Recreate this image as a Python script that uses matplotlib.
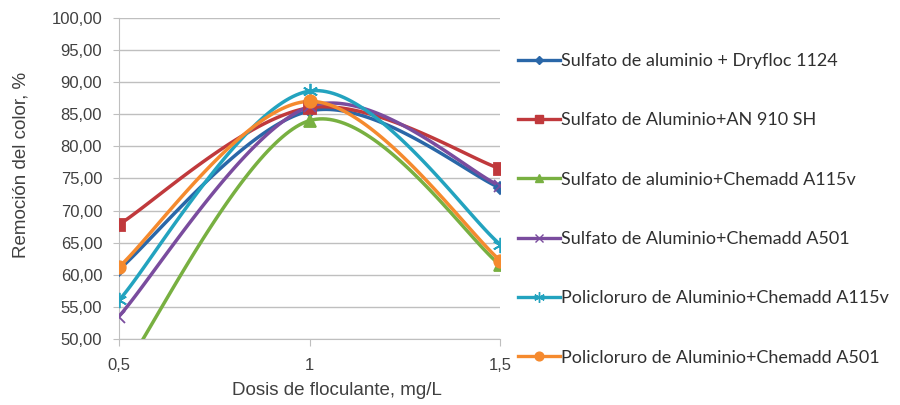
import numpy as np
import matplotlib
matplotlib.use("Agg")
import matplotlib.pyplot as plt
from matplotlib.lines import Line2D

x_vals = [0.5, 1.0, 1.5]
x_labels = ["0,5", "1", "1,5"]
y_ticks = [50, 55, 60, 65, 70, 75, 80, 85, 90, 95, 100]

series_names = [
    "Sulfato de aluminio + Dryfloc 1124",
    "Sulfato de Aluminio+AN 910 SH",
    "Sulfato de aluminio+Chemadd A115v",
    "Sulfato de Aluminio+Chemadd A501",
    "Policloruro de Aluminio+Chemadd A115v",
    "Policloruro de Aluminio+Chemadd A501",
]
dryfloc = [60.8, 85.5, 73.5]
an910 = [67.8, 86.0, 76.5]
chem_a115v = [44.0, 84.0, 61.5]
chem_a501 = [53.5, 86.2, 73.8]
poli_a115v = [56.0, 88.6, 64.7]
poli_a501 = [61.2, 87.0, 62.2]
series_values = [dryfloc, an910, chem_a115v, chem_a501, poli_a115v, poli_a501]

colors = ["#2A67A8", "#C0393C", "#78B041", "#7A4C9E", "#23A3BF", "#F58A2E"]
markers = ["D", "s", "^", "x", (6, 2, 0), "o"]
msizes = [6, 8, 8, 9, 11, 9]


def smooth(xs, ys, n=60):
    xs = np.asarray(xs, float)
    ys = np.asarray(ys, float)
    P = np.column_stack([xs, ys])
    ext = np.vstack([P[0], P, P[-1]])
    out = []
    for i in range(len(P) - 1):
        p0, p1, p2, p3 = ext[i], ext[i + 1], ext[i + 2], ext[i + 3]
        c1 = p1 + (p2 - p0) / 6.0
        c2 = p2 - (p3 - p1) / 6.0
        t = np.linspace(0, 1, n)[:, None]
        seg = ((1 - t) ** 3) * p1 + 3 * ((1 - t) ** 2) * t * c1 + 3 * (1 - t) * t ** 2 * c2 + t ** 3 * p2
        out.append(seg if i == 0 else seg[1:])
    out = np.vstack(out)
    return out[:, 0], out[:, 1]


plt.rcParams['font.family'] = ['Liberation Sans', 'DejaVu Sans']
fig = plt.figure(figsize=(9, 4.05), dpi=100)
ax = fig.add_axes([0.132, 0.163, 0.424, 0.793])

for vals, c, m, ms in zip(series_values, colors, markers, msizes):
    sx, sy = smooth(x_vals, vals)
    ax.plot(sx, sy, color=c, lw=2.5, solid_capstyle='round', zorder=3)
    ax.plot(x_vals, vals, linestyle='none', marker=m, color=c, ms=ms,
            markeredgewidth=1.3, zorder=4)

ax.set_xlim(0.5, 1.5)
ax.set_ylim(50, 100)
ax.set_yticks(y_ticks)
ax.set_yticklabels([f"{v:.2f}".replace(".", ",") for v in y_ticks],
                   fontsize=12, color='#404040')
ax.set_xticks(x_vals)
ax.set_xticklabels(x_labels, fontsize=12, color='#404040')
ax.yaxis.grid(True, color='#BFBFBF', lw=1)
ax.set_axisbelow(True)
for s in ['top', 'right']:
    ax.spines[s].set_visible(False)
ax.spines['left'].set_color('#BFBFBF')
ax.spines['bottom'].set_color('#BFBFBF')
ax.tick_params(axis='y', length=4, color='#BFBFBF', pad=8)
ax.tick_params(axis='x', length=5, color='#BFBFBF', pad=9, direction='out')
ax.set_ylabel("Remoción del color, %", fontsize=13.5, color='#404040')
ax.set_xlabel("Dosis de floculante, mg/L", fontsize=13.5, color='#404040')
ax.yaxis.set_label_coords(-0.235, 0.542)
ax.xaxis.set_label_coords(0.572, -0.135)

handles = [Line2D([0], [0], color=c, lw=2.4, marker=m, ms=ms * 0.7)
           for c, m, ms in zip(colors, markers, msizes)]
fig.legend(handles, series_names, loc='upper left', bbox_to_anchor=(0.557, 0.909),
           frameon=False, prop={'family': 'Lato', 'size': 13}, handlelength=2.33,
           handletextpad=0.1, labelspacing=2.4, labelcolor='#303030')

fig.savefig("out.png", dpi=100)
